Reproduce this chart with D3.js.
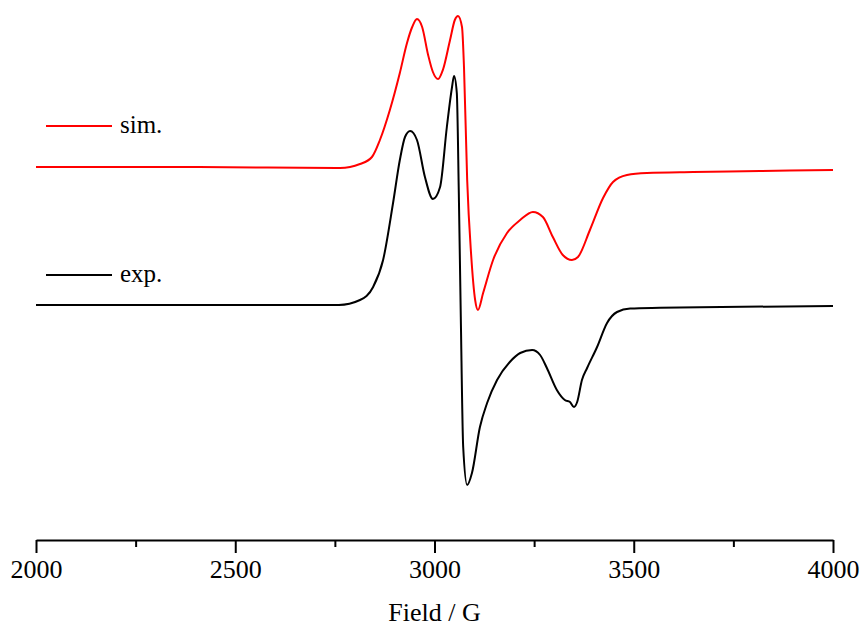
<!DOCTYPE html>
<html>
<head>
<meta charset="utf-8">
<script src="https://cdn.jsdelivr.net/npm/d3@7"></script>
<style>
  body { margin: 0; background: white; }
</style>
</head>
<body>
<div id="container"></div>
<script>
let w = 861;
let h = 626;
let serif = "Liberation Serif";

// field values (G)
let expField = [2000, 2400, 2760, 2813, 2846, 2871, 2896, 2913, 2926, 2939, 2956, 2976, 2996, 3014, 3031, 3044, 3049, 3056, 3061, 3066, 3072, 3082, 3094, 3114, 3132, 3157, 3189, 3215, 3245, 3265, 3282, 3307, 3327, 3340, 3350, 3358, 3370, 3383, 3408, 3433, 3458, 3491, 3566, 3666, 4000];
// experimental derivative signal (arb. units)
let expSignal = [0.01, 0.01, 0.01, 0.06, 0.19, 0.46, 1.03, 1.46, 1.69, 1.75, 1.66, 1.29, 1.07, 1.19, 1.79, 2.19, 2.30, 2.13, 1.13, -0.11, -1.41, -1.79, -1.67, -1.21, -0.97, -0.74, -0.56, -0.47, -0.44, -0.49, -0.62, -0.84, -0.94, -0.96, -1.01, -0.96, -0.74, -0.62, -0.41, -0.17, -0.06, -0.025, -0.018, -0.012, 0];

let simField = [2000, 2400, 2763, 2813, 2843, 2863, 2888, 2913, 2931, 2944, 2956, 2969, 2984, 2996, 3009, 3021, 3039, 3051, 3059, 3069, 3074, 3082, 3092, 3102, 3109, 3122, 3147, 3182, 3215, 3247, 3272, 3297, 3322, 3345, 3360, 3390, 3423, 3448, 3483, 3533, 3649, 3817, 4000];
// simulated signal, relative to its own baseline
let simSignal = [0.01, 0.01, 0, 0.04, 0.11, 0.28, 0.58, 0.95, 1.25, 1.41, 1.49, 1.41, 1.13, 0.96, 0.89, 0.98, 1.28, 1.48, 1.52, 1.41, 1.01, -0.12, -0.87, -1.32, -1.42, -1.25, -0.92, -0.65, -0.52, -0.44, -0.49, -0.69, -0.87, -0.92, -0.89, -0.62, -0.30, -0.14, -0.07, -0.05, -0.04, -0.03, -0.02];
// vertical shift of the simulated trace
let simOffset = 1.38;

let xTicks = [2000, 2500, 3000, 3500, 4000];
let xMinorTicks = [2250, 2750, 3250, 3750];

let viz = d3.select("#container")
  .append("svg")
    .attr("width", w)
    .attr("height", h)
    .style("background-color", "white")
;

let xScale = d3.scaleLinear().domain([2000, 4000]).range([36, 833]);
let yScale = d3.scaleLinear().domain([-2.34, 3.06]).range([540, 0]);

// axis line with ticks pointing down
let xAxis = d3.axisBottom(xScale).tickValues(xTicks).tickSize(13).tickSizeOuter(0)
  .tickPadding(7).tickFormat(d3.format("d"));
let xAxisGroup = viz.append("g").attr("class", "xaxis")
  .attr("transform", "translate(0," + 540 + ")")
  .call(xAxis);
xAxisGroup.attr("font-family", serif).attr("font-size", 26);
xAxisGroup.select(".domain").attr("stroke-width", 2);
xAxisGroup.selectAll(".tick line").attr("stroke-width", 2);
xAxisGroup.selectAll(".tick text")
  .attr("font-family", serif)
  .attr("font-size", 26)
  .attr("fill", "black");

let minorAxis = d3.axisBottom(xScale).tickValues(xMinorTicks).tickSize(7).tickFormat("");
let minorGroup = viz.append("g").attr("class", "minoraxis")
  .attr("transform", "translate(0," + 540 + ")")
  .call(minorAxis);
minorGroup.select(".domain").remove();
minorGroup.selectAll(".tick line").attr("stroke-width", 2);

viz.append("text")
  .attr("x", xScale(3000))
  .attr("y", 621)
  .attr("text-anchor", "middle")
  .attr("font-family", serif)
  .attr("font-size", 26)
  .text("Field / G");

let expData = expField.map(function(f, i){ return {x: f, y: expSignal[i]}; });
let simData = simField.map(function(f, i){ return {x: f, y: simSignal[i] + simOffset}; });

let line = d3.line()
  .x(function(d){ return xScale(d.x); })
  .y(function(d){ return yScale(d.y); })
  .curve(d3.curveMonotoneX);

let vizgroup = viz.append("g").attr("class", "vizgroup");

vizgroup.append("path")
  .attr("d", line(expData))
  .attr("fill", "none")
  .attr("stroke", "black")
  .attr("stroke-width", 2);

vizgroup.append("path")
  .attr("d", line(simData))
  .attr("fill", "none")
  .attr("stroke", "red")
  .attr("stroke-width", 2);

// legend
let legendItems = [
  {label: "sim.", color: "red", y: 126},
  {label: "exp.", color: "black", y: 275}
];
let legend = viz.append("g").attr("class", "legend");
legendItems.forEach(function(item){
  legend.append("line")
    .attr("x1", 46).attr("x2", 112)
    .attr("y1", item.y).attr("y2", item.y)
    .attr("stroke", item.color)
    .attr("stroke-width", 2);
  legend.append("text")
    .attr("x", 120)
    .attr("y", item.y + 7)
    .attr("font-family", serif)
    .attr("font-size", 25)
    .text(item.label);
});
</script>
</body>
</html>
